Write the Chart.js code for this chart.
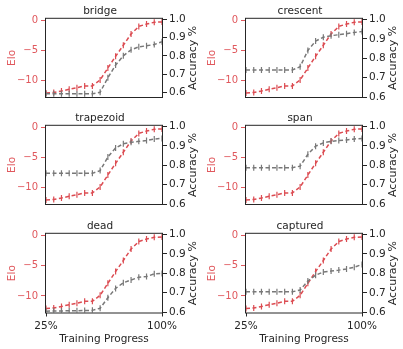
<!DOCTYPE html>
<html>
<head>
<meta charset="utf-8">
<script src="https://cdn.jsdelivr.net/npm/chart.js@4.4.0/dist/chart.umd.min.js"></script>
<style>
  body { margin: 0; background: #fff; width: 403px; height: 349px; position: relative; overflow: hidden; }
  canvas { position: absolute; }
</style>
</head>
<body>
<script>
// training progress (%) at each checkpoint
const progress = [25, 30, 35, 40, 45, 50, 55, 60, 65, 70, 75, 80, 85, 90, 95, 100];

// Elo is the same curve in every panel
const eloScores = [-12.1, -12.0, -11.75, -11.45, -11.2, -10.9, -10.9, -9.9, -7.9, -5.95, -4.1, -2.2, -0.95, -0.55, -0.25, -0.2];

const tasks = ['bridge', 'crescent', 'trapezoid', 'span', 'dead', 'captured'];

const accBridge    = [0.592, 0.592, 0.592, 0.592, 0.592, 0.592, 0.592, 0.600, 0.680, 0.749, 0.800, 0.833, 0.849, 0.855, 0.862, 0.877];
const accCrescent  = [0.739, 0.739, 0.739, 0.739, 0.739, 0.739, 0.739, 0.756, 0.840, 0.888, 0.908, 0.916, 0.921, 0.926, 0.933, 0.937];
const accTrapezoid = [0.758, 0.758, 0.758, 0.758, 0.758, 0.758, 0.758, 0.772, 0.842, 0.889, 0.910, 0.918, 0.923, 0.927, 0.935, 0.938];
const accSpan      = [0.787, 0.787, 0.787, 0.787, 0.787, 0.787, 0.787, 0.795, 0.856, 0.898, 0.915, 0.923, 0.927, 0.930, 0.935, 0.938];
const accDead      = [0.605, 0.606, 0.606, 0.607, 0.607, 0.608, 0.609, 0.620, 0.674, 0.722, 0.751, 0.765, 0.780, 0.783, 0.797, 0.799];
const accCaptured  = [0.706, 0.706, 0.706, 0.706, 0.706, 0.706, 0.706, 0.715, 0.761, 0.791, 0.807, 0.812, 0.817, 0.823, 0.832, 0.846];
const accuracy = [accBridge, accCrescent, accTrapezoid, accSpan, accDead, accCaptured];

// lower limit of the accuracy axis per panel (upper is 1.0)
const accFloor = [0.574, 0.6, 0.6, 0.6, 0.598, 0.6];

const eloTicks = [-10, -5, 0];
const accTicks = [0.6, 0.7, 0.8, 0.9, 1.0];
const xTicks = [25, 100];

const RED = '#dc4c52';
const RED_TXT = '#e0585d';
const GRAY = '#787878';
const INK = '#262626';
const FONT = 'DejaVu Sans';

// frame on all 4 sides + right axis title drawn bottom-to-top like matplotlib
const framePlugin = {
  id: 'frame',
  afterDraw(chart) {
    const { ctx, chartArea: a } = chart;
    ctx.save();
    ctx.strokeStyle = INK;
    ctx.lineWidth = 1;
    ctx.strokeRect(a.left - 0.5, a.top - 0.5, a.right - a.left + 1, a.bottom - a.top + 1);
    ctx.translate(193, (a.top + a.bottom) / 2);
    ctx.rotate(-Math.PI / 2);
    ctx.fillStyle = INK;
    ctx.font = `11px "${FONT}"`;
    ctx.textAlign = 'center';
    ctx.textBaseline = 'middle';
    ctx.fillText('Accuracy %', 0, 0);
    ctx.restore();
  }
};

const rowTop = [0, 107, 215];

tasks.forEach((name, i) => {
  const col = i % 2, row = Math.floor(i / 2);
  const last = row === 2;
  const cv = document.createElement('canvas');
  cv.width = 200;
  cv.height = last ? 134 : 106;
  cv.style.left = (col * 200) + 'px';
  cv.style.top = rowTop[row] + 'px';
  document.body.appendChild(cv);

  new Chart(cv.getContext('2d'), {
    type: 'line',
    data: {
      labels: progress,
      datasets: [{
        label: 'Accuracy',
        data: progress.map((p, k) => ({ x: p, y: accuracy[i][k] })),
        yAxisID: 'y1',
        order: 0,
        borderColor: GRAY,
        backgroundColor: GRAY,
        borderWidth: 1.5,
        borderDash: [4, 2.5],
        pointStyle: 'line',
        pointRotation: 90,
        pointRadius: 3,
        pointBorderWidth: 1.2,
        tension: 0
      }, {
        label: 'Elo',
        data: progress.map((p, k) => ({ x: p, y: eloScores[k] })),
        yAxisID: 'y',
        order: 1,
        borderColor: RED,
        backgroundColor: RED,
        borderWidth: 1.5,
        borderDash: [4, 2.5],
        pointStyle: 'line',
        pointRotation: 90,
        pointRadius: 3,
        pointBorderWidth: 1.2,
        tension: 0
      }]
    },
    options: {
      responsive: false,
      animation: false,
      devicePixelRatio: 1,
      layout: { padding: 0 },
      plugins: {
        legend: { display: false },
        tooltip: { enabled: false },
        title: {
          display: true,
          text: name,
          color: INK,
          font: { family: FONT, size: 10.5, weight: 'normal' },
          padding: { top: 4.5, bottom: 1.7 }
        }
      },
      scales: {
        x: {
          type: 'linear',
          min: 25, max: 100,
          afterFit: s => { s.height = last ? 36.5 : 8.5; },
          afterBuildTicks: s => { s.ticks = xTicks.map(v => ({ value: v })); },
          border: { display: false },
          grid: { drawOnChartArea: false, drawTicks: last, tickLength: 4, color: INK },
          ticks: {
            display: last,
            maxRotation: 0,
            autoSkip: false,
            padding: 3,
            color: INK,
            font: { family: FONT, size: 10.5 },
            callback: v => v + '%'
          },
          title: {
            display: last,
            text: 'Training Progress',
            color: INK,
            font: { family: FONT, size: 10.5 },
            padding: { top: 0, bottom: 3.8 }
          }
        },
        y: {
          position: 'left',
          min: -12.75, max: 0.33,
          afterFit: s => { s.width = 46; },
          afterBuildTicks: s => { s.ticks = eloTicks.map(v => ({ value: v })); },
          border: { display: false },
          grid: { drawOnChartArea: false, tickLength: 5, color: RED_TXT },
          ticks: {
            padding: 3,
            color: RED_TXT,
            font: { family: FONT, size: 10 },
            callback: v => v < 0 ? '\u2212' + Math.abs(v) : String(v)
          },
          title: {
            display: true,
            text: 'Elo',
            color: RED_TXT,
            font: { family: FONT, size: 10.5 },
            padding: { top: 5.5, bottom: 0 }
          }
        },
        y1: {
          position: 'right',
          min: accFloor[i], max: 1.003,
          afterFit: s => { s.width = 38; },
          afterBuildTicks: s => { s.ticks = accTicks.map(v => ({ value: v })); },
          border: { display: false },
          grid: { drawOnChartArea: false, tickLength: 5, color: INK },
          ticks: {
            padding: 2,
            color: INK,
            font: { family: FONT, size: 10.5 },
            callback: v => v.toFixed(1)
          }
        }
      }
    },
    plugins: [framePlugin]
  });
});
</script>
</body>
</html>
